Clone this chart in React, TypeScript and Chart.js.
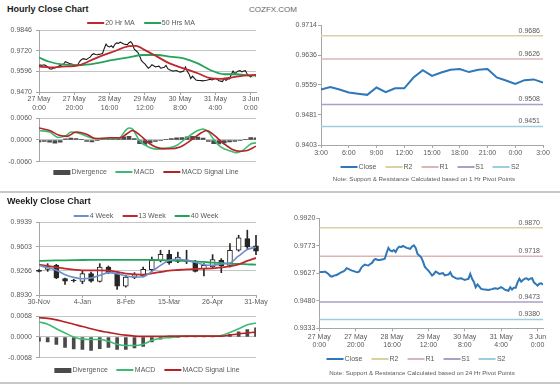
import React, { useEffect, useRef } from "react";
import { Chart, registerables } from "chart.js";

Chart.register(...registerables);

const FONT = '"Liberation Sans", Arial, sans-serif';
const TEXT = "#595959";
const GRID = "#c4c4c4";
const AXIS = "#a6a6a6";

// ---------- Hourly data (x = trading hour index from 27 May 0:00) ----------
const HOUR_TICK_STEP = 20;
const HOUR_TICK_LABELS = [
  ["27 May", "0:00"],
  ["27 May", "20:00"],
  ["28 May", "16:00"],
  ["29 May", "12:00"],
  ["30 May", "8:00"],
  ["31 May", "4:00"],
  ["3 Jun", "0:00"],
];
const HOURLY_CLOSE = [
  0.9632, 0.9634, 0.9633, 0.9636, 0.963, 0.9623, 0.9612, 0.9609, 0.9614, 0.9616,
  0.962, 0.9626, 0.9631, 0.9636, 0.9641, 0.9654, 0.965, 0.9645, 0.9641, 0.9638,
  0.9634, 0.9632, 0.9636, 0.9655, 0.9666, 0.9673, 0.967, 0.9668, 0.9676, 0.9682,
  0.9697, 0.9703, 0.9698, 0.9697, 0.9699, 0.9701, 0.9704, 0.9735, 0.9762, 0.9748,
  0.9744, 0.9751, 0.974, 0.976, 0.9769, 0.9766, 0.9773, 0.9768, 0.9762, 0.976,
  0.9757, 0.977, 0.9776, 0.9762, 0.973, 0.9721, 0.9712, 0.969, 0.9662, 0.965,
  0.9641, 0.9628, 0.9615, 0.9623, 0.9636, 0.963, 0.9623, 0.9625, 0.9627, 0.9615,
  0.9618, 0.962, 0.9632, 0.9612, 0.9606, 0.9601, 0.9597, 0.9599, 0.96, 0.9595,
  0.9591, 0.9594, 0.9597, 0.9623, 0.9597, 0.958, 0.9552, 0.9567, 0.9555, 0.9543,
  0.9541, 0.954, 0.9539, 0.9538, 0.954, 0.9542, 0.9545, 0.9547, 0.9543,
  0.9547, 0.9553, 0.9547, 0.9539, 0.9536, 0.9533, 0.9552, 0.954, 0.955, 0.955,
  0.9578, 0.9597, 0.9582, 0.9591, 0.9598, 0.96, 0.9592, 0.9598, 0.96, 0.9578,
  0.957, 0.9561, 0.9571, 0.9573, 0.9565,
];
const MA20_HOURS = [0, 6, 13, 23, 32, 42, 51, 55, 59, 67, 74, 82, 90, 97, 103, 109, 116, 123];
const MA20_VALUES = [0.9624, 0.962, 0.9624, 0.9634, 0.9675, 0.9715, 0.9749, 0.9751, 0.9731, 0.9685, 0.9644, 0.9614, 0.9584, 0.9554, 0.955, 0.9558, 0.957, 0.9574];
const MA50_HOURS = [0, 6, 13, 23, 32, 42, 51, 59, 67, 74, 82, 90, 97, 105, 112, 120, 123];
const MA50_VALUES = [0.9679, 0.9654, 0.9638, 0.9634, 0.9644, 0.9665, 0.9681, 0.9695, 0.9695, 0.9685, 0.9675, 0.9644, 0.9604, 0.9578, 0.9578, 0.957, 0.9572];
const H_MACD_HOURS = [0, 6, 11, 16, 18, 23, 29, 34, 42, 46, 49, 51, 53, 57, 62, 67, 72, 78, 84, 90, 93, 96, 99, 103, 109, 112, 116, 120, 123];
const H_MACD_VALUES = [0.0026, 0.0022, 0.0007, 0.0014, 0.0022, 0.0018, 0.0007, 0.0003, 0.0004, 0.0007, 0.0026, 0.0033, 0.003, -0.0002, -0.0019, -0.0025, -0.0023, -0.0015, 0.0007, 0.0026, 0.003, 0.0022, 0.0002, -0.0019, -0.0031, -0.0035, -0.0027, -0.0011, -0.0008];
const H_SIGNAL_HOURS = [0, 6, 11, 16, 21, 27, 32, 40, 46, 50, 53, 57, 63, 69, 74, 80, 86, 92, 95, 99, 105, 110, 114, 118, 123];
const H_SIGNAL_VALUES = [0.0033, 0.0026, 0.0014, 0.001, 0.0022, 0.0016, 0.0004, 0.0006, 0.0006, 0.0018, 0.0026, 0.0014, -0.0011, -0.0023, -0.0024, -0.0019, -0.0001, 0.002, 0.0026, 0.0014, -0.0011, -0.0027, -0.0031, -0.0029, -0.0017];
const H_DIV_STEP = 3;
const H_DIVERGENCE = [
  -0.0005, -0.0004, -0.0006, -0.0009, -0.0006, 0.0003, 0.0005, 0.0004, 0.0002, -0.0004,
  -0.0005, -0.0002, 0.0001, 0.0002, 0.0001, 0.0004, 0.0009, 0.001, 0.0004, -0.001,
  -0.0012, -0.0008, -0.0004, -0.0001, 0.0002, 0.0004, 0.0006, 0.0007, 0.0009, 0.001,
  0.0008, 0.0005, -0.0004, -0.001, -0.0011, -0.0008, -0.0005, -0.0004, -0.0002, 0.0002,
  0.0007, 0.0006,
];
const HOURLY_Y_TICKS = [0.947, 0.9596, 0.972, 0.9846];
const H_MACD_TICKS = [-0.006, 0, 0.006];

// ---------- Last 24 hours ----------
const DAY_START_HOUR = 99;
const DAY_TICK_STEP = 3;
const DAY_TICK_LABELS = ["3:00", "6:00", "9:00", "12:00", "15:00", "18:00", "21:00", "0:00", "3:00"];
const DAY_Y_TICKS = [0.9403, 0.9481, 0.9559, 0.9636, 0.9714];
const PIVOT_NAMES = ["R2", "R1", "S1", "S2"];
const PIVOT_COLORS = ["#d6d2a2", "#dcb6b6", "#ab9fc6", "#9bcfdf"];
const PIVOTS_1H = [0.9686, 0.9626, 0.9508, 0.9451];
const PIVOTS_24H = [0.987, 0.9718, 0.9473, 0.938];
const FIVE_DAY_Y_TICKS = [0.9333, 0.948, 0.9627, 0.9773, 0.992];

// ---------- Weekly data ----------
const WEEK_TICK_STEP = 5;
const WEEK_TICK_LABELS = ["30-Nov", "4-Jan", "8-Feb", "15-Mar", "26-Apr", "31-May"];
const WEEK_OPEN = [0.9273, 0.9287, 0.9343, 0.9157, 0.9138, 0.912, 0.9227, 0.912, 0.932, 0.9227, 0.9054, 0.9176, 0.9194, 0.9283, 0.9404, 0.9497, 0.9399, 0.9399, 0.939, 0.9297, 0.932, 0.9413, 0.9343, 0.9553, 0.9716, 0.9613];
const WEEK_HIGH = [0.9283, 0.9366, 0.9357, 0.9166, 0.9148, 0.9273, 0.925, 0.9366, 0.9334, 0.9259, 0.9203, 0.9241, 0.932, 0.9459, 0.9553, 0.9553, 0.9529, 0.9553, 0.9413, 0.9366, 0.9492, 0.9436, 0.9646, 0.9762, 0.9832, 0.9762];
const WEEK_LOW = [0.925, 0.9259, 0.9157, 0.9078, 0.911, 0.9087, 0.911, 0.911, 0.9227, 0.9008, 0.904, 0.9157, 0.918, 0.9264, 0.939, 0.9357, 0.938, 0.9366, 0.925, 0.9194, 0.9306, 0.9241, 0.932, 0.9539, 0.9576, 0.9492];
const WEEK_CLOSE = [0.9259, 0.9334, 0.9166, 0.9124, 0.9129, 0.9227, 0.9124, 0.932, 0.9241, 0.9054, 0.918, 0.9213, 0.9287, 0.9413, 0.9497, 0.9376, 0.9459, 0.9418, 0.9259, 0.9343, 0.9422, 0.9334, 0.9553, 0.9725, 0.9599, 0.9539];
const MA4W = [0.9343, 0.931, 0.9273, 0.9213, 0.9175, 0.9157, 0.9166, 0.9203, 0.9241, 0.9227, 0.9194, 0.918, 0.9185, 0.9259, 0.9343, 0.9413, 0.9427, 0.9413, 0.9385, 0.9352, 0.9343, 0.9362, 0.9376, 0.9473, 0.9562, 0.9594];
const MA13W = [0.9352, 0.9334, 0.9315, 0.9297, 0.9283, 0.9273, 0.9273, 0.9273, 0.9269, 0.925, 0.9227, 0.9218, 0.9213, 0.9231, 0.925, 0.9269, 0.9278, 0.9287, 0.9292, 0.9297, 0.9301, 0.9315, 0.9329, 0.9357, 0.9404, 0.9446];
const MA40W = [0.9404, 0.9408, 0.9411, 0.9413, 0.9415, 0.9417, 0.9418, 0.9418, 0.9419, 0.942, 0.942, 0.942, 0.942, 0.9418, 0.9416, 0.9413, 0.9408, 0.9404, 0.9399, 0.939, 0.938, 0.9376, 0.9366, 0.9362, 0.9357, 0.9352];
const W_MACD = [0.0049, 0.0042, 0.0027, 0.0013, 0.0, -0.0007, -0.0008, -0.0008, -0.0014, -0.0024, -0.0028, -0.0028, -0.0024, -0.0011, -0.0004, -0.0002, 0.0001, 0.0003, 0.0003, 0.0003, 0.0003, 0.0005, 0.0015, 0.0027, 0.004, 0.0046];
const W_SIGNAL = [0.0063, 0.0061, 0.0056, 0.0049, 0.0042, 0.0034, 0.0027, 0.002, 0.0015, 0.001, 0.0006, 0.0003, 0.0002, 0.0002, 0.0002, 0.0003, 0.0003, 0.0003, 0.0003, 0.0003, 0.0003, 0.0003, 0.0006, 0.001, 0.0013, 0.0016];
const W_DIVERGENCE = [-0.0014, -0.0016, -0.0024, -0.0034, -0.0039, -0.0041, -0.0044, -0.0038, -0.0034, -0.0041, -0.0041, -0.0036, -0.0031, -0.0016, -0.0007, -0.0002, -0.0001, 0.0, 0.0, 0.0, 0.0, 0.0002, 0.0009, 0.0017, 0.0024, 0.003];
const WEEK_Y_TICKS = [0.893, 0.9266, 0.9603, 0.9939];
const W_MACD_TICKS = [-0.0068, 0, 0.0068];

// ---------- colours ----------
const RED_MA = "#c0282d";
const GREEN_MA = "#25a35a";
const MACD_GREEN = "#3dba74";
const SIGNAL_RED = "#b52226";
const DIV_GRAY = "#4a4a4a";
const CLOSE_BLUE = "#2f77b8";
const BLUE_4W = "#6b8fca";
const CANDLE = "#262626";

const tickFont = (size: number) => ({ family: FONT, size, lineHeight: 1.2 });
const fmt4 = (v: any) => {
  const n = Number(v);
  return (Math.abs(n) < 1e-9 ? 0 : n).toFixed(4);
};

const yScale = (ticks: number[], width: number, grid: boolean, pad: number) => ({
  type: "linear",
  min: ticks[0],
  max: ticks[ticks.length - 1],
  offset: false,
  afterBuildTicks: (axis: any) => {
    axis.ticks = ticks.map((value) => ({ value }));
  },
  afterFit: (axis: any) => {
    axis.width = width;
  },
  ticks: {
    font: tickFont(7),
    color: TEXT,
    padding: pad,
    autoSkip: false,
    callback: fmt4,
  },
  grid: { drawOnChartArea: grid, color: GRID, tickColor: AXIS, tickLength: 3, offset: false },
  border: { color: AXIS, width: 1 },
});

const xScale = (max: number, step: number, labels: any[], height: number, display: boolean, pad: number) => ({
  type: "linear",
  min: 0,
  max,
  display,
  offset: false,
  afterBuildTicks: (axis: any) => {
    axis.ticks = labels.map((_: any, i: number) => ({ value: i * step }));
  },
  afterFit: (axis: any) => {
    axis.height = height;
  },
  ticks: {
    font: tickFont(7),
    color: TEXT,
    padding: pad,
    autoSkip: false,
    maxRotation: 0,
    callback: (v: any) => labels[Math.round(Number(v) / step)],
  },
  grid: { drawOnChartArea: false, color: AXIS, tickColor: AXIS, tickLength: 3, offset: false },
  border: { color: AXIS, width: 1 },
});

const baseOptions = (padding: any) => ({
  responsive: false,
  animation: false,
  events: [],
  layout: { autoPadding: false, padding },
  plugins: { legend: { display: false }, tooltip: { enabled: false } },
});

const line = (data: any[], color: string, width: number, order: number, tension = 0.4) => ({
  type: "line",
  data,
  borderColor: color,
  borderWidth: width,
  pointRadius: 0,
  tension,
  cubicInterpolationMode: tension ? "monotone" : "default",
  fill: false,
  order,
});

const pivotLabelPlugin = (levels: number[]) => ({
  id: "pivotLabels",
  afterDatasetsDraw(chart: any) {
    const { ctx, chartArea, scales } = chart;
    ctx.save();
    ctx.font = `7px ${FONT}`;
    ctx.fillStyle = TEXT;
    ctx.textAlign = "right";
    ctx.textBaseline = "alphabetic";
    levels.forEach((v) => {
      const y = scales.y.getPixelForValue(v);
      ctx.fillText(v.toFixed(4), chartArea.right - 3, y - 3);
    });
    ctx.restore();
  },
});

type LegendItem = { label: string; color: string; box?: boolean };

function Legend({ items, cx, cy, lineW = 17, gap = 9 }: { items: LegendItem[]; cx: number; cy: number; lineW?: number; gap?: number }) {
  return (
    <div
      style={{
        position: "absolute",
        left: cx,
        top: cy - 5,
        height: 10,
        transform: "translateX(-50%)",
        display: "flex",
        alignItems: "center",
        whiteSpace: "nowrap",
        fontSize: 7,
        lineHeight: "10px",
        color: TEXT,
      }}
    >
      {items.map((it, i) => (
        <span key={i} style={{ display: "flex", alignItems: "center", marginLeft: i ? gap : 0 }}>
          <span style={{ display: "inline-block", width: lineW, height: it.box ? 5 : 2, background: it.color, marginRight: 1 }} />
          <span>{it.label}</span>
        </span>
      ))}
    </div>
  );
}

export default function App() {
  const aRef = useRef<HTMLCanvasElement>(null);
  const bRef = useRef<HTMLCanvasElement>(null);
  const cRef = useRef<HTMLCanvasElement>(null);
  const dRef = useRef<HTMLCanvasElement>(null);
  const eRef = useRef<HTMLCanvasElement>(null);
  const fRef = useRef<HTMLCanvasElement>(null);

  useEffect(() => {
    Chart.defaults.font.family = FONT;
    const charts: Chart[] = [];
    const lastHour = HOURLY_CLOSE.length - 1;
    const closePts = HOURLY_CLOSE.map((y, x) => ({ x, y }));

    // A: hourly close with moving averages
    charts.push(
      new Chart(aRef.current as HTMLCanvasElement, {
        type: "line",
        data: {
          datasets: [
            line(MA20_HOURS.map((x, i) => ({ x, y: MA20_VALUES[i] })), RED_MA, 1.8, 0),
            line(MA50_HOURS.map((x, i) => ({ x, y: MA50_VALUES[i] })), GREEN_MA, 1.8, 1),
            line(closePts, "#1a1a1a", 1.1, 2, 0),
          ] as any,
        },
        options: {
          ...baseOptions({ top: 8, right: 8, left: 0, bottom: 0 }),
          scales: {
            x: xScale(lastHour, HOUR_TICK_STEP, HOUR_TICK_LABELS, 22, true, 0),
            y: yScale(HOURLY_Y_TICKS, 39, true, 4),
          },
        } as any,
      })
    );

    // B: hourly MACD
    charts.push(
      new Chart(bRef.current as HTMLCanvasElement, {
        type: "line",
        data: {
          datasets: [
            line(H_MACD_HOURS.map((x, i) => ({ x, y: H_MACD_VALUES[i] })), MACD_GREEN, 1.6, 1),
            line(H_SIGNAL_HOURS.map((x, i) => ({ x, y: H_SIGNAL_VALUES[i] })), SIGNAL_RED, 1.6, 0),
            {
              type: "bar",
              data: H_DIVERGENCE.map((y, i) => ({ x: i * H_DIV_STEP, y })),
              backgroundColor: DIV_GRAY,
              barThickness: 4,
              order: 2,
            },
          ] as any,
        },
        options: {
          ...baseOptions({ top: 7, right: 8, left: 0, bottom: 3 }),
          scales: {
            x: xScale(lastHour, HOUR_TICK_STEP, HOUR_TICK_LABELS, 0, false, 0),
            y: yScale(H_MACD_TICKS, 39, true, 4),
          },
        } as any,
      })
    );

    // C: last 24 hours with 1 Hr pivots
    const dayClose = HOURLY_CLOSE.slice(DAY_START_HOUR);
    const dayMax = dayClose.length - 1;
    charts.push(
      new Chart(cRef.current as HTMLCanvasElement, {
        type: "line",
        data: {
          datasets: [
            line(dayClose.map((y, x) => ({ x, y })), CLOSE_BLUE, 2, 0, 0),
            ...PIVOTS_1H.map((v, i) =>
              line([{ x: 0, y: v }, { x: dayMax, y: v }], PIVOT_COLORS[i], 1.5, 1, 0)
            ),
          ] as any,
        },
        options: {
          ...baseOptions({ top: 9, right: 17, left: 0, bottom: 0 }),
          scales: {
            x: xScale(dayMax, DAY_TICK_STEP, DAY_TICK_LABELS, 21, true, 1),
            y: yScale(DAY_Y_TICKS, 41, false, 1),
          },
        } as any,
        plugins: [pivotLabelPlugin(PIVOTS_1H)],
      })
    );

    // D: weekly candles with moving averages
    const wickData = WEEK_HIGH.map((h, i) => ({ x: i, y: [WEEK_LOW[i], h] }));
    const bodyData = WEEK_OPEN.map((o, i) => ({ x: i, y: [Math.min(o, WEEK_CLOSE[i]), Math.max(o, WEEK_CLOSE[i])] }));
    const bodyColors = WEEK_OPEN.map((o, i) => (WEEK_CLOSE[i] >= o ? "#ffffff" : CANDLE));
    const lastWeek = WEEK_CLOSE.length - 1;
    charts.push(
      new Chart(dRef.current as HTMLCanvasElement, {
        type: "line",
        data: {
          datasets: [
            line(MA4W.map((y, x) => ({ x, y })), BLUE_4W, 1.6, 0, 0.3),
            line(MA13W.map((y, x) => ({ x, y })), RED_MA, 1.8, 1, 0.3),
            line(MA40W.map((y, x) => ({ x, y })), GREEN_MA, 1.8, 2, 0.3),
            {
              type: "bar",
              data: bodyData,
              backgroundColor: bodyColors,
              borderColor: CANDLE,
              borderWidth: 1,
              borderSkipped: false,
              barThickness: 5,
              grouped: false,
              clip: false,
              order: 3,
            },
            {
              type: "bar",
              data: wickData,
              backgroundColor: CANDLE,
              barThickness: 1,
              grouped: false,
              clip: false,
              order: 4,
            },
          ] as any,
        },
        options: {
          ...baseOptions({ top: 8.5, right: 16, left: 0, bottom: 0 }),
          scales: {
            x: xScale(lastWeek, WEEK_TICK_STEP, WEEK_TICK_LABELS, 15, true, 0),
            y: yScale(WEEK_Y_TICKS, 39, true, 4),
          },
        } as any,
      })
    );

    // E: weekly MACD
    charts.push(
      new Chart(eRef.current as HTMLCanvasElement, {
        type: "line",
        data: {
          datasets: [
            line(W_MACD.map((y, x) => ({ x, y })), MACD_GREEN, 1.6, 1, 0.4),
            line(W_SIGNAL.map((y, x) => ({ x, y })), SIGNAL_RED, 1.6, 0, 0.4),
            {
              type: "bar",
              data: W_DIVERGENCE.map((y, x) => ({ x, y })),
              backgroundColor: DIV_GRAY,
              barThickness: 3,
              order: 2,
            },
          ] as any,
        },
        options: {
          ...baseOptions({ top: 6.3, right: 16, left: 0, bottom: 4.3 }),
          scales: {
            x: xScale(lastWeek, WEEK_TICK_STEP, WEEK_TICK_LABELS, 0, false, 0),
            y: yScale(W_MACD_TICKS, 39, true, 4),
          },
        } as any,
      })
    );

    // F: hourly close over the week with 24 Hr pivots
    charts.push(
      new Chart(fRef.current as HTMLCanvasElement, {
        type: "line",
        data: {
          datasets: [
            line(closePts, CLOSE_BLUE, 2, 0, 0),
            ...PIVOTS_24H.map((v, i) =>
              line([{ x: 0, y: v }, { x: lastHour, y: v }], PIVOT_COLORS[i], 1.5, 1, 0)
            ),
          ] as any,
        },
        options: {
          ...baseOptions({ top: 8.3, right: 17, left: 0, bottom: 0 }),
          scales: {
            x: xScale(lastHour, HOUR_TICK_STEP, HOUR_TICK_LABELS, 21.7, true, 1.5),
            y: yScale(FIVE_DAY_Y_TICKS, 39.3, false, 1),
          },
        } as any,
        plugins: [pivotLabelPlugin(PIVOTS_24H)],
      })
    );

    return () => charts.forEach((c) => c.destroy());
  }, []);

  const pivotLegend = (): LegendItem[] => [
    { label: "Close", color: CLOSE_BLUE },
    ...PIVOT_NAMES.map((n, i) => ({ label: n, color: PIVOT_COLORS[i] })),
  ];
  const macdLegend: LegendItem[] = [
    { label: "Divergence", color: DIV_GRAY, box: true },
    { label: "MACD", color: MACD_GREEN },
    { label: "MACD Signal Line", color: SIGNAL_RED },
  ];

  const abs = (left: number, top: number) => ({ position: "absolute" as const, left, top });

  return (
    <div
      style={{
        position: "absolute",
        left: 0,
        top: 0,
        width: 560,
        height: 385,
        background: "#ffffff",
        overflow: "hidden",
        fontFamily: FONT,
      }}
    >
      <div style={{ ...abs(7, 3), fontSize: 9, fontWeight: "bold", color: "#1a1a1a", lineHeight: "12px" }}>Hourly Close Chart</div>
      <div style={{ ...abs(249, 4), fontSize: 8, color: "#666666", lineHeight: "11px" }}>COZFX.COM</div>

      <canvas ref={aRef} width={264} height={92} style={abs(0, 22)} />
      <Legend cx={141} cy={22.7} items={[{ label: "20 Hr MA", color: RED_MA }, { label: "50 Hrs MA", color: GREEN_MA }]} />
      <canvas ref={bRef} width={264} height={60} style={abs(0, 110)} />
      <Legend cx={146} cy={172.3} items={macdLegend} />

      <canvas ref={cRef} width={280} height={150} style={abs(280, 16)} />
      <Legend cx={430} cy={167} items={pivotLegend()} />
      <div style={{ ...abs(424, 175), transform: "translateX(-50%)", fontSize: 6.2, color: TEXT, whiteSpace: "nowrap", lineHeight: "8px" }}>
        Note: Support &amp; Resistance Calculated based on 1 Hr Pivot Points
      </div>

      <div style={{ ...abs(0, 191), width: 560, height: 2, background: "#c8c8c8" }} />

      <div style={{ ...abs(7, 195), fontSize: 9, fontWeight: "bold", color: "#1a1a1a", lineHeight: "12px" }}>Weekly Close Chart</div>
      <canvas ref={dRef} width={272} height={96} style={abs(0, 214)} />
      <Legend cx={146} cy={216} lineW={15} items={[{ label: "4 Week", color: BLUE_4W }, { label: "13 Week", color: RED_MA }, { label: "40 Week", color: GREEN_MA }]} />
      <canvas ref={eRef} width={272} height={58} style={abs(0, 308)} />
      <Legend cx={147} cy={370} items={macdLegend} />

      <canvas ref={fRef} width={280} height={140} style={abs(280, 210)} />
      <Legend cx={416} cy={359} items={pivotLegend()} />
      <div style={{ ...abs(422, 369), transform: "translateX(-50%)", fontSize: 6.2, color: TEXT, whiteSpace: "nowrap", lineHeight: "8px" }}>
        Note: Support &amp; Resistance Calculated based on 24 Hr Pivot Points
      </div>

      <div style={{ ...abs(0, 382), width: 560, height: 2, background: "#c8c8c8" }} />
    </div>
  );
}
